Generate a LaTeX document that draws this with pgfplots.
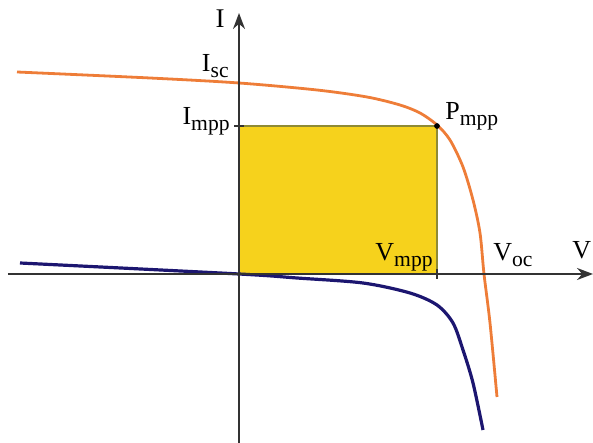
\documentclass[border=0pt]{standalone}
\usepackage{fontspec}
\setmainfont{Liberation Serif}
\usepackage{pgfplots}
\pgfplotsset{compat=1.18}
\usetikzlibrary{arrows.meta}
\definecolor{CurveOrange}{HTML}{EE7D38}
\definecolor{CurveNavy}{HTML}{1C1670}
\definecolor{AreaYellow}{HTML}{F6D21C}
\definecolor{AreaEdge}{HTML}{8E8A35}
\definecolor{AxisGray}{HTML}{333333}
% label with a lowered subscript
\newcommand{\lab}[2]{{\fontsize{13}{13}\selectfont #1}\raisebox{-3pt}{\fontsize{10.8}{10.8}\selectfont #2}}

\begin{document}
\begin{tikzpicture}
\begin{axis}[
  scale only axis,
  width=292.5pt,height=215pt,
  xmin=-2.31,xmax=3.54,ymin=-1.69,ymax=2.61,
  axis lines=middle,
  axis on top,
  clip=false,
  axis line style={draw=AxisGray,line width=1pt,-{Stealth[length=8pt,width=6pt]}},
  xtick={1.98},ytick={1.48},
  xticklabels={},yticklabels={},
  tick style={draw=AxisGray,line width=0.9pt},
  major tick length=5pt,tick align=center,
]
  % maximum power rectangle
  \addplot[fill=AreaYellow,draw=AreaEdge,line width=0.8pt]
    coordinates {(0,0) (0,1.48) (1.98,1.48) (1.98,0)} -- cycle;
  % illuminated I-V curve
  \addplot[CurveOrange,line width=1.4pt,smooth,tension=0.5] coordinates {
    (-2.22,2.02) (-0.89,1.96) (0,1.91) (0.78,1.84) (1.28,1.77) (1.61,1.69)
    (1.81,1.61) (1.98,1.49) (2.11,1.34) (2.24,1.07) (2.34,0.74) (2.41,0.41)
    (2.45,0.00) (2.51,-0.49) (2.58,-1.23)};
  % dark I-V curve
  \addplot[CurveNavy,line width=1.6pt,smooth,tension=0.5] coordinates {
    (-2.19,0.11) (0,0) (0.58,-0.04) (1.24,-0.09) (1.71,-0.19) (1.98,-0.31)
    (2.14,-0.49) (2.24,-0.76) (2.34,-1.09) (2.44,-1.56)};
  % maximum power point
  \addplot[only marks,mark=*,mark size=1.2pt,black] coordinates {(1.98,1.48)};

  \node[anchor=center,font=\fontsize{13.5}{13.5}\selectfont] at (axis cs:-0.19,2.55) {I};
  \node[anchor=base east,inner sep=0pt] at (axis cs:-0.10,2.02) {\lab{I}{sc}};
  \node[anchor=base east,inner sep=0pt] at (axis cs:-0.09,1.49) {\lab{I}{mpp}};
  \node[anchor=base west,inner sep=0pt] at (axis cs:2.06,1.54) {\lab{P}{mpp}};
  \node[anchor=base east,inner sep=0pt] at (axis cs:1.94,0.13) {\lab{V}{mpp}};
  \node[anchor=base west,inner sep=0pt] at (axis cs:2.54,0.13) {\lab{V}{oc}};
  \node[anchor=base west,inner sep=0pt] at (axis cs:3.33,0.15) {\lab{V}{}};
  \coordinate (bbsw) at (axis cs:-2.39,-1.69);
  \coordinate (bbne) at (axis cs:3.54,2.74);
\end{axis}
\pgfresetboundingbox
\path[use as bounding box] (bbsw) rectangle (bbne);
\end{tikzpicture}
\end{document}
